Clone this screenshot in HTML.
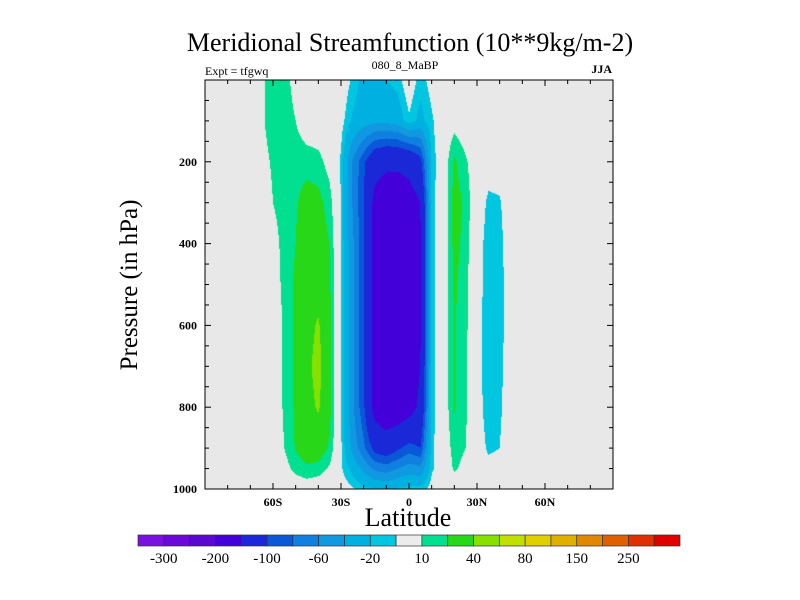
<!DOCTYPE html>
<html><head><meta charset="utf-8"><style>
body{margin:0;background:#fff;width:800px;height:600px;overflow:hidden;position:relative;font-family:"Liberation Serif",serif}
.t{position:absolute;white-space:nowrap;color:#000}
</style></head><body>
<div class="t" style="left:0;width:820px;text-align:center;top:28px;font-size:26px">Meridional Streamfunction (10**9kg/m-2)</div>
<div class="t" style="left:205px;top:64px;font-size:12px">Expt = tfgwq</div>
<div class="t" style="left:305px;width:200px;text-align:center;top:58px;font-size:12px">080_8_MaBP</div>
<div class="t" style="left:560px;width:52px;text-align:right;top:62px;font-size:12px;font-weight:bold">JJA</div>
<div class="t" style="left:130px;top:285px;font-size:25px;transform:translate(-50%,-50%) rotate(-90deg)">Pressure (in hPa)</div>
<div class="t" style="left:308px;width:200px;text-align:center;top:503px;font-size:26px">Latitude</div>
<svg id="svg" width="800" height="600" style="position:absolute;left:0;top:0">
<rect x="205" y="80" width="408" height="409" fill="#e8e8e8"/>
<foreignObject x="205" y="80" width="408" height="409"><canvas id="cv" width="408" height="409" xmlns="http://www.w3.org/1999/xhtml"></canvas></foreignObject>
<g id="axes"></g>
<g id="cbar"></g>
</svg>
<script>
const lats=[-75,-70,-65,-60,-55,-50,-45,-40,-35,-30,-25,-20,-15,-10,-5,0,5,10,15,20,25,30,35,40,45,50];
const pres=[0,100,200,300,400,500,600,700,800,900,950,1000];
const row0=[0,0,8,15,15,5,0,0,0,0,-12,-25,-25,-20,-15,0,-15,-5,0,0,0,0,0,0,0,0];
const row100=[0,0,8,16,16,10,0,0,0,-5,-22,-30,-35,-35,-30,-12,-25,-12,0,5,0,0,0,0,0,0];
const row200=[0,0,5,12,16,17,17,14,5,-12,-60,-95,-130,-140,-140,-135,-110,-16,0,22,12,0,-5,-5,0,0];
const row300=[0,0,0,10,15,19,24,24,15,-10,-60,-100,-165,-180,-180,-170,-150,-14,0,25,18,-3,-12,-11,-3,0];
const row400=[0,0,0,5,14,20,28,28,20,-10,-55,-95,-170,-190,-190,-180,-155,-14,0,24,16,-5,-14,-13,-3,0];
const row500=[0,0,0,2,14,22,30,32,22,-10,-55,-95,-170,-190,-190,-180,-155,-14,0,22,14,-5,-15,-14,-3,0];
const row600=[0,0,0,0,12,22,34,42,24,-10,-55,-95,-170,-190,-190,-180,-155,-14,0,21,13,-5,-16,-14,-3,0];
const row700=[0,0,0,0,12,22,36,46,24,-10,-55,-95,-170,-190,-190,-180,-150,-14,0,21,12,-5,-16,-13,-3,0];
const row800=[0,0,0,0,12,22,34,42,24,-10,-55,-95,-170,-190,-185,-170,-140,-14,0,21,12,-5,-15,-12,-2,0];
const row900=[0,0,0,0,10,21,28,28,18,-8,-45,-75,-110,-120,-105,-90,-100,-13,0,15,10,-3,-12,-10,-2,0];
const row950=[0,0,0,0,5,14,18,16,8,-8,-25,-45,-65,-70,-60,-50,-55,-12,-2,12,6,-2,-6,-5,0,0];
const row1000=[0,0,0,0,0,0,2,0,0,-2,-8,-15,-20,-22,-18,-15,-15,-5,0,0,0,0,0,0,0,0];
const grid=[row0,row100,row200,row300,row400,row500,row600,row700,row800,row900,row950,row1000];
const levels=[-300,-250,-200,-150,-100,-80,-60,-40,-20,-10,10,20,40,60,80,100,150,200,250,300];
const colors=["#7a10e0","#6a08d8","#5a08d0","#4400d8","#1a28d8","#0a58d8","#1080e0","#1098e0","#00b0e0","#00c6e0","#ececec","#00e090","#28d818","#88e000","#c0e000","#e0d000","#e0b000","#e08800","#e06000","#e03000","#e00000"];
const cbLabels=["-300","-200","-100","-60","-20","10","40","80","150","250"];
const yTicks=[200,400,600,800,1000];
const xTicks=[-60,-30,0,30,60];
const xTickLabels=["60S","30S","0","30N","60N"];

const X0=205,X1=613,Y0=80,Y1=489;
const xs=lat=>X0+(lat+90)/180*(X1-X0);
const ys=p=>Y0+p/1000*(Y1-Y0);
const NS="http://www.w3.org/2000/svg";
function mk(tag,attrs,parent){const e=document.createElementNS(NS,tag);for(const k in attrs)e.setAttribute(k,attrs[k]);parent.appendChild(e);return e;}
function hex(c){return [parseInt(c.slice(1,3),16),parseInt(c.slice(3,5),16),parseInt(c.slice(5,7),16)];}
function sample(lat,p){
  if(lat<lats[0]||lat>lats[lats.length-1])return 0;
  let i=0;while(i<lats.length-2&&lat>lats[i+1])i++;
  let j=0;while(j<pres.length-2&&p>pres[j+1])j++;
  const fx=(lat-lats[i])/(lats[i+1]-lats[i]),fy=Math.min(1,Math.max(0,(p-pres[j])/(pres[j+1]-pres[j])));
  const a=grid[j][i],b=grid[j][i+1],c=grid[j+1][i],d=grid[j+1][i+1];
  return (a*(1-fx)+b*fx)*(1-fy)+(c*(1-fx)+d*fx)*fy;
}
const cv=document.getElementById('cv');const ctx=cv.getContext('2d');
const W=cv.width,H=cv.height;const img=ctx.createImageData(W,H);
const rgb=colors.map(hex);
for(let py=0;py<H;py++){for(let px=0;px<W;px++){
  const lat=-90+(px+0.5)/W*180,p=(py+0.5)/H*1000;
  const v=sample(lat,p);let k=0;while(k<levels.length&&v>levels[k])k++;
  const o=(py*W+px)*4;
  if(k===10){img.data[o+3]=0;continue;}
  img.data[o]=rgb[k][0];img.data[o+1]=rgb[k][1];img.data[o+2]=rgb[k][2];img.data[o+3]=255;
}}
ctx.putImageData(img,0,0);

const ax=document.getElementById('axes');
const frame=mk('rect',{x:X0,y:Y0,width:X1-X0,height:Y1-Y0,fill:'none',stroke:'#000','stroke-width':1},ax);


for(let p=50;p<=1000;p+=50){
  const y=ys(p),maj=p%200===0,L=maj?6:4;
  mk('line',{x1:X0,x2:X0+L,y1:y,y2:y,stroke:'#000'},ax);
  mk('line',{x1:X1,x2:X1-L,y1:y,y2:y,stroke:'#000'},ax);
}
yTicks.forEach(p=>{
  const t=mk('text',{x:X0-8,y:ys(p)+4,'text-anchor':'end','font-size':12,'font-weight':'bold','font-family':'Liberation Serif, serif'},ax);
  t.textContent=p;
  
  
});
for(let lat=-80;lat<=80;lat+=10){
  const x=xs(lat),maj=lat%30===0,L=maj?6:4;
  mk('line',{x1:x,x2:x,y1:Y1,y2:Y1-L,stroke:'#000'},ax);
  mk('line',{x1:x,x2:x,y1:Y0,y2:Y0+L,stroke:'#000'},ax);
}
xTicks.forEach((lat,i)=>{
  const t=mk('text',{x:xs(lat),y:Y1+17,'text-anchor':'middle','font-size':12,'font-weight':'bold','font-family':'Liberation Serif, serif'},ax);
  t.textContent=xTickLabels[i];
  
  
});

const cb=document.getElementById('cbar');
const CB0=138,CB1=680,CBY=535,CBH=11,bw=(CB1-CB0)/colors.length;
colors.forEach((c,i)=>{
  const r=mk('rect',{x:CB0+i*bw,y:CBY,width:bw,height:CBH,fill:c,stroke:'#333','stroke-width':0.7},cb);
  
  
});
cbLabels.forEach((s,i)=>{
  const t=mk('text',{x:CB0+(1+2*i)*bw,y:CBY+28,'text-anchor':'middle','font-size':15,'font-family':'Liberation Serif, serif'},cb);
  t.textContent=s;
  
  
});
</script>
</body></html>
